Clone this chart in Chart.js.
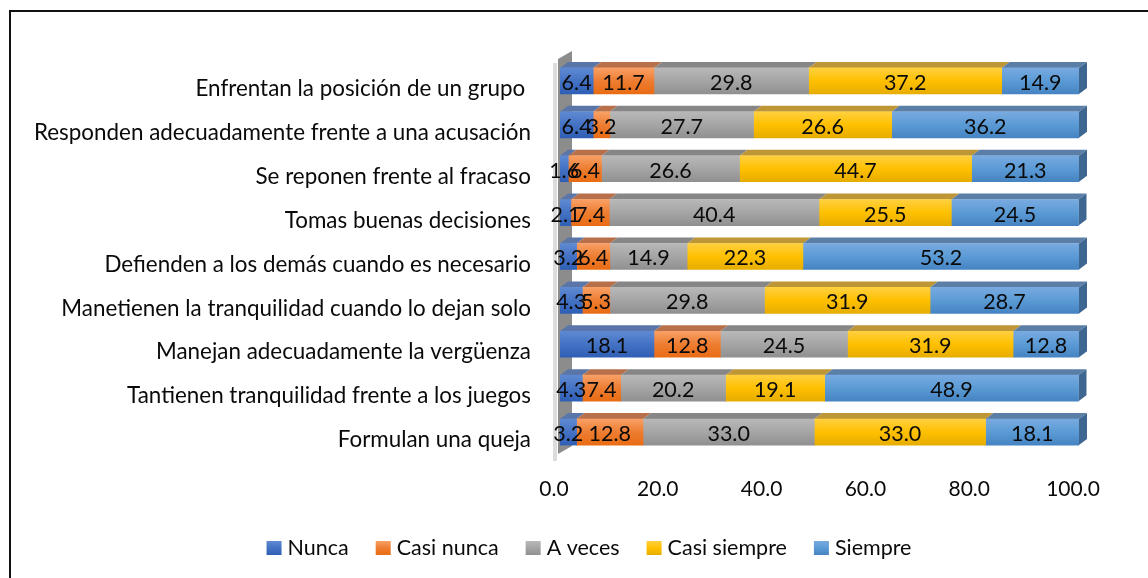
<!DOCTYPE html>
<html>
<head>
<meta charset="utf-8">
<style>
html, body { margin: 0; padding: 0; background: #fff; overflow: hidden; }
#wrap { position: relative; width: 1148px; height: 578px; }
#frame { position: absolute; left: 9px; top: 10px; width: 1148px; height: 600px; border: 2px solid #111; box-sizing: border-box; }
canvas { position: absolute; left: 0; top: 0; }
</style>
<script src="https://cdn.jsdelivr.net/npm/chart.js@4"></script>
</head>
<body>
<div id="wrap">
<div id="frame"></div>
<canvas id="chart-likert" width="1148" height="578"></canvas>
</div>
<script>
let categories = [
    "Enfrentan la posición de un grupo ",
    "Responden adecuadamente frente a una acusación",
    "Se reponen frente al fracaso",
    "Tomas buenas decisiones",
    "Defienden a los demás cuando es necesario",
    "Manetienen la tranquilidad cuando lo dejan solo",
    "Manejan adecuadamente la vergüenza",
    "Tantienen tranquilidad frente a los juegos",
    "Formulan una queja"
]
let nunca = [6.4, 6.4, 1.6, 2.1, 3.2, 4.3, 18.1, 4.3, 3.2]
let casiNunca = [11.7, 3.2, 6.4, 7.4, 6.4, 5.3, 12.8, 7.4, 12.8]
let aVeces = [29.8, 27.7, 26.6, 40.4, 14.9, 29.8, 24.5, 20.2, 33.0]
let casiSiempre = [37.2, 26.6, 44.7, 25.5, 22.3, 31.9, 31.9, 19.1, 33.0]
let siempre = [14.9, 36.2, 21.3, 24.5, 53.2, 28.7, 12.8, 48.9, 18.1]

let seriesNames = ["Nunca", "Casi nunca", "A veces", "Casi siempre", "Siempre"]
let seriesValues = [nunca, casiNunca, aVeces, casiSiempre, siempre]
// light, mid, dark for the front face, then top face and side face
let palette = [
    ["#5f8ad2", "#4472c4", "#2f5fb5", "#5a76a8", "#34568f"],
    ["#f9a066", "#ed7d31", "#e96c14", "#b8704a", "#a85a28"],
    ["#b8b8b8", "#a5a5a5", "#909090", "#868686", "#767676"],
    ["#ffd040", "#ffc000", "#e6ad00", "#bf9636", "#a8851c"],
    ["#78aae0", "#5b9bd5", "#4583c2", "#5a7ea6", "#3d6690"]
]

const FONT = "Lato, Carlito, sans-serif"
const TEXT_COLOR = "#0a0a0a"
const BAR_H = 26
const DEPTH_X = 8, DEPTH_Y = 6

function frontGradient(ctx, colors, top, bottom) {
    let g = ctx.createLinearGradient(0, top, 0, bottom)
    g.addColorStop(0, colors[0])
    g.addColorStop(0.5, colors[1])
    g.addColorStop(1, colors[2])
    return g
}

function face(ctx, pts, color) {
    ctx.fillStyle = color
    ctx.beginPath()
    pts.forEach((p, i) => i ? ctx.lineTo(p[0], p[1]) : ctx.moveTo(p[0], p[1]))
    ctx.closePath()
    ctx.fill()
}

// left wall and floor edge behind the bars
let wallPlugin = {
    id: "wall",
    beforeDatasetsDraw(chart) {
        let c = chart.ctx, a = chart.chartArea
        c.save()
        face(c, [[a.left - 7, a.top + 4], [a.left - 3, a.top + 4], [a.left - 3, a.bottom + 7], [a.left - 7, a.bottom + 7]], "#dcdcdc")
        face(c, [[a.left - 2, a.top], [a.left + 12, a.top - 8], [a.left + 12, a.bottom - 8], [a.left - 2, a.bottom]], "#8c8c8c")
        c.restore()
    }
}

// top and right faces of each 3d bar, drawn from the bar elements
let depthPlugin = {
    id: "depth",
    beforeDatasetsDraw(chart) {
        let c = chart.ctx, right = chart.chartArea.right
        c.save()
        chart.data.datasets.forEach((ds, d) => {
            chart.getDatasetMeta(d).data.forEach((bar) => {
                let top = bar.y - bar.height / 2
                let bottom = bar.y + bar.height / 2
                let end = Math.min(bar.x, right)
                face(c, [[bar.base, top], [end, top], [end + DEPTH_X, top - DEPTH_Y], [bar.base + DEPTH_X, top - DEPTH_Y]], palette[d][3])
                if (d == chart.data.datasets.length - 1) {
                    face(c, [[end, top], [end + DEPTH_X, top - DEPTH_Y], [end + DEPTH_X, bottom - DEPTH_Y], [end, bottom]], palette[d][4])
                }
            })
        })
        c.restore()
    }
}

// value labels on top of all bars
let valueLabels = {
    id: "valueLabels",
    afterDatasetsDraw(chart) {
        let c = chart.ctx, right = chart.chartArea.right
        c.save()
        c.font = "21.5px " + FONT
        c.fillStyle = TEXT_COLOR
        c.textAlign = "center"
        c.textBaseline = "middle"
        chart.data.datasets.forEach((ds, d) => {
            chart.getDatasetMeta(d).data.forEach((bar, i) => {
                c.fillText(ds.data[i].toFixed(1), (bar.base + Math.min(bar.x, right)) / 2, bar.y + 2)
            })
        })
        c.restore()
    }
}

// legend with a tighter box to text gap than the built in one
let bottomLegend = {
    id: "bottomLegend",
    afterDraw(chart) {
        let c = chart.ctx
        let box = 15, gap = 6, spacing = 27, centerX = 589, y = 548
        c.save()
        c.font = "21.5px " + FONT
        c.textBaseline = "middle"
        let widths = seriesNames.map((n) => c.measureText(n).width)
        let total = widths.reduce((a, w) => a + w + box + gap, 0) + spacing * (seriesNames.length - 1)
        let x = centerX - total / 2
        seriesNames.forEach((name, d) => {
            c.fillStyle = frontGradient(c, palette[d], y - 7, y + 7)
            c.fillRect(x, y - 7, box, 14)
            c.fillStyle = TEXT_COLOR
            c.fillText(name, x + box + gap, y)
            x += box + gap + widths[d] + spacing
        })
        c.restore()
    }
}

let canvas = document.getElementById("chart-likert")
let ctx = canvas.getContext("2d")

let likertData = {
    labels: categories,
    datasets: seriesNames.map((name, d) => ({
        label: name,
        data: seriesValues[d],
        backgroundColor: (context) => {
            if (context.type != "data") return palette[d][1]
            let mid = context.chart.scales.y.getPixelForValue(context.dataIndex)
            if (!Number.isFinite(mid)) return palette[d][1]
            return frontGradient(ctx, palette[d], mid - BAR_H / 2, mid + BAR_H / 2)
        },
        borderWidth: 0
    }))
}

let likertChart = new Chart(ctx, {
    type: "bar",
    data: likertData,
    plugins: [wallPlugin, depthPlugin, valueLabels, bottomLegend],
    options: {
        indexAxis: "y",
        responsive: false,
        animation: false,
        barThickness: BAR_H,
        layout: { padding: { top: 59, right: 69, left: 0, bottom: 62 } },
        scales: {
            x: {
                stacked: true,
                min: 0,
                max: 100,
                grid: { display: false },
                border: { display: false },
                afterFit(scale) { scale.height = 62 },
                ticks: {
                    stepSize: 20,
                    maxRotation: 0,
                    padding: 15,
                    labelOffset: -6,
                    color: TEXT_COLOR,
                    font: { family: FONT, size: 21 },
                    callback: (v) => v.toFixed(1)
                }
            },
            y: {
                stacked: true,
                grid: { display: false },
                border: { display: false },
                afterFit(scale) { scale.width = 560 },
                ticks: {
                    autoSkip: false,
                    padding: 21,
                    labelOffset: 8,
                    color: TEXT_COLOR,
                    font: { family: FONT, size: 22.4 }
                }
            }
        },
        plugins: {
            tooltip: { enabled: false },
            legend: { display: false }
        }
    }
})
</script>
</body>
</html>
